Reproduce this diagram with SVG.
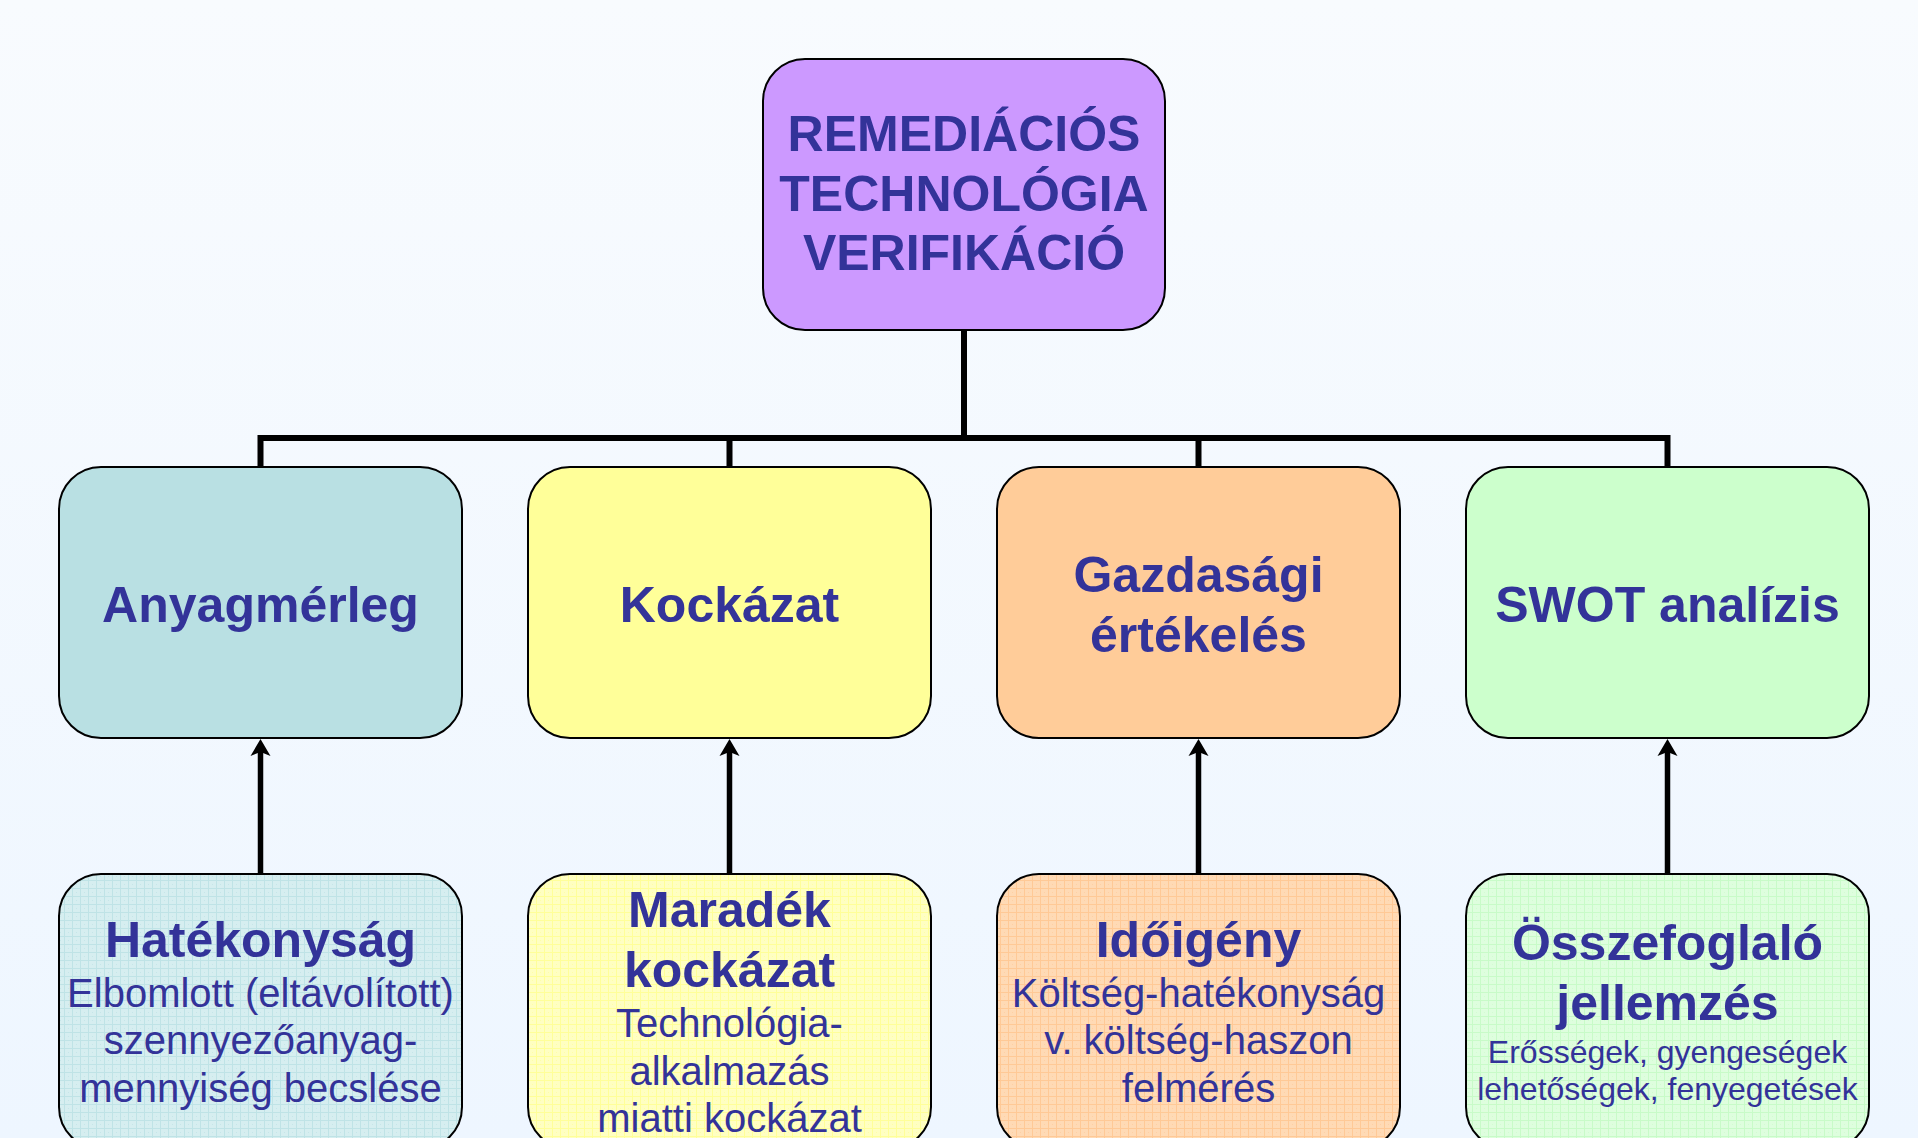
<svg xmlns="http://www.w3.org/2000/svg" width="1918" height="1138" viewBox="0 0 1918 1138">
  <defs>
    <linearGradient id="bg" x1="0" y1="0" x2="0" y2="1">
      <stop offset="0" stop-color="#f8fbfe"/>
      <stop offset="1" stop-color="#eef6ff"/>
    </linearGradient>
    <pattern id="patCyan" width="8" height="8" patternUnits="userSpaceOnUse">
      <rect width="8" height="8" fill="#d6eef0"/>
      <path d="M0,0.5H8M0.5,0V8" stroke="#bfe3e6" stroke-width="1"/>
      <rect x="4" y="4" width="1" height="1" fill="#c6e6e9"/>
    </pattern>
    <pattern id="patYellow" width="8" height="8" patternUnits="userSpaceOnUse">
      <rect width="8" height="8" fill="#ffffc2"/>
      <path d="M0,0.5H8M0.5,0V8" stroke="#ffff99" stroke-width="1"/>
      <rect x="4" y="4" width="1" height="1" fill="#ffffa8"/>
    </pattern>
    <pattern id="patOrange" width="8" height="8" patternUnits="userSpaceOnUse">
      <rect width="8" height="8" fill="#ffdab5"/>
      <path d="M0,0.5H8M0.5,0V8" stroke="#ffc996" stroke-width="1"/>
      <rect x="4" y="4" width="1" height="1" fill="#ffd0a4"/>
    </pattern>
    <pattern id="patGreen" width="8" height="8" patternUnits="userSpaceOnUse">
      <rect width="8" height="8" fill="#defede"/>
      <path d="M0,0.5H8M0.5,0V8" stroke="#c8fbc8" stroke-width="1"/>
      <rect x="4" y="4" width="1" height="1" fill="#d2fdd2"/>
    </pattern>
    <marker id="arrow" viewBox="0 -11 20 22" markerWidth="20" markerHeight="22" refX="5" refY="0" orient="auto" markerUnits="userSpaceOnUse">
      <path d="M17,0 L0,-10 L4,0 L0,10 Z" fill="#000"/>
    </marker>
    <style>
      .box { stroke: #000; stroke-width: 2; }
      .t { font-family: "Liberation Sans", Arial, sans-serif; fill: #333399; text-anchor: middle; }
      .b { font-weight: bold; }
      .top { font-size: 50px; }
      .mid { font-size: 50px; }
      .h { font-size: 50px; }
      .s { font-size: 40px; }
      .xs { font-size: 32px; }
      .conn { stroke: #000; stroke-width: 6; fill: none; }
      .arr { stroke: #000; stroke-width: 5.5; fill: none; }
    </style>
  </defs>

  <rect width="1918" height="1138" fill="url(#bg)"/>

  <g id="connectors">
    <path class="conn" d="M964,330 V438 M260.5,467 V438 H1667.5 V467 M729.5,438 V467 M1198.5,438 V467"/>
    <line class="arr" x1="260.5" y1="874" x2="260.5" y2="751" marker-end="url(#arrow)"/>
    <line class="arr" x1="729.5" y1="874" x2="729.5" y2="751" marker-end="url(#arrow)"/>
    <line class="arr" x1="1198.5" y1="874" x2="1198.5" y2="751" marker-end="url(#arrow)"/>
    <line class="arr" x1="1667.5" y1="874" x2="1667.5" y2="751" marker-end="url(#arrow)"/>
  </g>

  <g id="node-root">
    <rect class="box" x="763" y="59" width="402" height="271" rx="42" fill="#cc99ff"/>
    <text class="t b top" x="964" y="151">REMEDIÁCIÓS</text>
    <text class="t b top" x="964" y="211">TECHNOLÓGIA</text>
    <text class="t b top" x="964" y="270">VERIFIKÁCIÓ</text>
  </g>

  <g id="node-anyagmerleg">
    <rect class="box" x="59" y="467" width="403" height="271" rx="42" fill="#b9e0e3"/>
    <text class="t b mid" x="260.5" y="622">Anyagmérleg</text>
  </g>
  <g id="node-kockazat">
    <rect class="box" x="528" y="467" width="403" height="271" rx="42" fill="#ffff99"/>
    <text class="t b mid" x="729.5" y="622">Kockázat</text>
  </g>
  <g id="node-gazdasagi">
    <rect class="box" x="997" y="467" width="403" height="271" rx="42" fill="#ffcc99"/>
    <text class="t b mid" x="1198.5" y="592">Gazdasági</text>
    <text class="t b mid" x="1198.5" y="652">értékelés</text>
  </g>
  <g id="node-swot">
    <rect class="box" x="1466" y="467" width="403" height="271" rx="42" fill="#ccffcc"/>
    <text class="t b mid" x="1667.5" y="622">SWOT analízis</text>
  </g>

  <g id="node-hatekonysag">
    <rect class="box" x="59" y="874" width="403" height="275" rx="42" fill="url(#patCyan)"/>
    <text class="t b h" x="260.5" y="957">Hatékonyság</text>
    <text class="t s" x="260.5" y="1007">Elbomlott (eltávolított)</text>
    <text class="t s" x="260.5" y="1054">szennyezőanyag-</text>
    <text class="t s" x="260.5" y="1102">mennyiség becslése</text>
  </g>
  <g id="node-maradek">
    <rect class="box" x="528" y="874" width="403" height="275" rx="42" fill="url(#patYellow)"/>
    <text class="t b h" x="729.5" y="927">Maradék</text>
    <text class="t b h" x="729.5" y="987">kockázat</text>
    <text class="t s" x="729.5" y="1037">Technológia-</text>
    <text class="t s" x="729.5" y="1085">alkalmazás</text>
    <text class="t s" x="729.5" y="1132">miatti kockázat</text>
  </g>
  <g id="node-idoigeny">
    <rect class="box" x="997" y="874" width="403" height="275" rx="42" fill="url(#patOrange)"/>
    <text class="t b h" x="1198.5" y="957">Időigény</text>
    <text class="t s" x="1198.5" y="1007">Költség-hatékonyság</text>
    <text class="t s" x="1198.5" y="1054">v. költség-haszon</text>
    <text class="t s" x="1198.5" y="1102">felmérés</text>
  </g>
  <g id="node-osszefoglalo">
    <rect class="box" x="1466" y="874" width="403" height="275" rx="42" fill="url(#patGreen)"/>
    <text class="t b h" x="1667.5" y="960">Összefoglaló</text>
    <text class="t b h" x="1667.5" y="1020">jellemzés</text>
    <text class="t xs" x="1667.5" y="1063">Erősségek, gyengeségek</text>
    <text class="t xs" x="1667.5" y="1100">lehetőségek, fenyegetések</text>
  </g>
</svg>
